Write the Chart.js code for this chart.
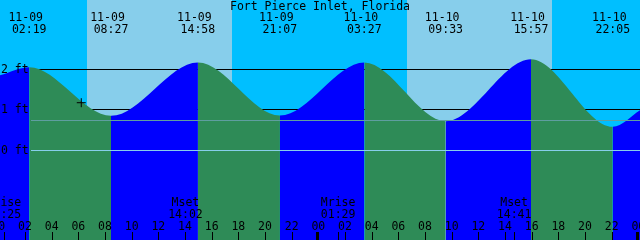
<!DOCTYPE html>
<html><head><meta charset="utf-8">
<script src="https://cdn.jsdelivr.net/npm/chart.js@4"></script>
<style>html,body{margin:0;padding:0;background:#fff;}canvas{display:block;}</style>
</head><body><canvas id="c" width="640" height="240"></canvas>
<script>
const title = 'Fort Pierce Inlet, Florida';
// hours since 11-09 00:00
const tideHours = [0.125, 2.317, 8.45, 14.967, 21.117, 27.45, 33.55, 39.95, 46.083, 48.125];
const tideFeet  = [1.85, 2.05, 0.85, 2.17, 0.86, 2.17, 0.72, 2.25, 0.58, 0.99];
const eventHours = [2.317, 8.45, 14.967, 21.117, 27.45, 33.55, 39.95, 46.083];
const eventDates = ['11-09','11-09','11-09','11-09','11-10','11-10','11-10','11-10'];
const eventTimes = ['02:19','08:27','14:58','21:07','03:27','09:33','15:57','22:05'];
const dayStart = [6.63, 30.63];
const dayEnd   = [17.5, 41.5];
const moonHours = [0.417, 14.033, 25.483, 38.683];
const moonNames = ['Mrise','Mset','Mrise','Mset'];
const moonTimes = ['00:25','14:02','01:29','14:41'];
const hourTicks = [0,2,4,6,8,10,12,14,16,18,20,22,24,26,28,30,32,34,36,38,40,42,44,46,48];
const hourLabels = ['00','02','04','06','08','10','12','14','16','18','20','22','00','02','04','06','08','10','12','14','16','18','20','22','00'];
const midnightHours = [0, 24, 48];
const gridFeet = [1, 2];
const yLabelFeet = [0, 1, 2];
const yLabels = ['0 ft', '1 ft', '2 ft'];
const refFeet = [0.74, 0];
const refColors = ['#5f9ea0', '#87ceeb'];
const nowPoint = {x: 6.22, y: 1.175};

const NIGHT = '#00bfff', DAY = '#87ceeb', FLOOD = '#0000ff', EBB = '#2e8b57';
const FONT = '11.5px "DejaVu Sans Mono", "Liberation Mono", monospace';
const LINE_START = 31;

const deco = {
  id: 'deco',
  beforeDraw(chart) {
    const {ctx, scales: {x, y}} = chart;
    ctx.save();
    ctx.fillStyle = NIGHT; ctx.fillRect(0, 0, 640, 240);
    ctx.fillStyle = DAY;
    dayStart.forEach((s, i) => {
      const a = x.getPixelForValue(s), b = x.getPixelForValue(dayEnd[i]);
      ctx.fillRect(Math.round(a), 0, Math.round(b) - Math.round(a), 240);
    });
    ctx.fillStyle = '#000';
    gridFeet.forEach(f => {
      const py = Math.floor(y.getPixelForValue(f));
      ctx.fillRect(LINE_START, py, 640, 1);
    });
    ctx.restore();
  },
  afterDatasetsDraw(chart) {
    const {ctx, scales: {x, y}} = chart;
    ctx.save();
    refFeet.forEach((f, i) => {
      const py = Math.floor(y.getPixelForValue(f));
      ctx.fillStyle = refColors[i];
      ctx.fillRect(LINE_START, py, 640, 1);
    });
    ctx.fillStyle = '#000';
    ctx.font = FONT;
    ctx.textBaseline = 'alphabetic';
    ctx.textAlign = 'center';
    ctx.fillText(title, 320, 10);
    eventHours.forEach((h, i) => {
      const px = x.getPixelForValue(h);
      ctx.fillText(eventDates[i], px - 3.5, 21);
      ctx.fillText(eventTimes[i], px, 33);
    });
    moonHours.forEach((h, i) => {
      const px = x.getPixelForValue(h);
      ctx.fillText(moonNames[i], px, 206);
      ctx.fillText(moonTimes[i], px, 218);
      ctx.fillRect(Math.round(px), 232, 1, 8);
    });
    hourTicks.forEach((h, i) => {
      const px = x.getPixelForValue(h);
      ctx.fillText(hourLabels[i], px, 230);
      if (midnightHours.includes(h)) ctx.fillRect(Math.round(px) - 2, 232, 3, 8);
      else ctx.fillRect(Math.round(px), 232, 1, 8);
    });
    ctx.textAlign = 'left';
    yLabelFeet.forEach((f, i) => {
      const py = Math.floor(y.getPixelForValue(f));
      ctx.fillText(yLabels[i], 1, py + 4);
    });
    ctx.restore();
  }
};

new Chart(document.getElementById('c'), {
  type: 'line',
  data: {
    datasets: [
      {
        type: 'scatter',
        data: [nowPoint],
        pointStyle: 'cross',
        pointRadius: 4.5,
        borderColor: '#000',
        backgroundColor: '#000',
        borderWidth: 1,
        order: 0
      },
      {
        data: tideHours.map((h, i) => ({x: h, y: tideFeet[i]})),
        fill: 'start',
        backgroundColor: EBB,
        borderColor: 'rgba(0,0,0,0)',
        borderWidth: 0,
        pointRadius: 0,
        cubicInterpolationMode: 'monotone',
        segment: {
          backgroundColor: c => (c.p1.parsed.y > c.p0.parsed.y ? FLOOD : EBB)
        },
        order: 1
      }
    ]
  },
  options: {
    responsive: false,
    animation: false,
    events: [],
    layout: {padding: 0, autoPadding: false},
    plugins: {legend: {display: false}, tooltip: {enabled: false}},
    scales: {
      x: {type: 'linear', min: 0.125, max: 48.125, display: false},
      y: {min: -2.215, max: 3.711, display: false}
    }
  },
  plugins: [deco]
});
</script>
</body></html>
